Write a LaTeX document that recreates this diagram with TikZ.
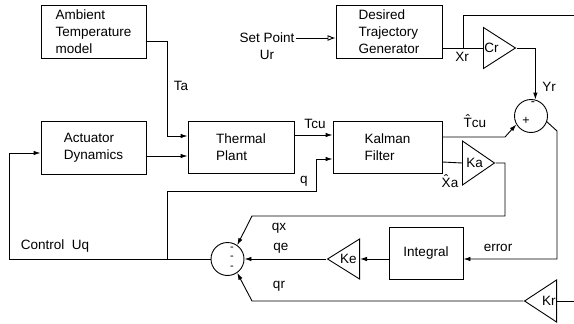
\documentclass[tikz,border=0pt]{standalone}
\usepackage{fontspec}
\setmainfont{Liberation Sans}
\usetikzlibrary{positioning, arrows.meta, shapes.geometric, calc}

\tikzset{
  block/.style={draw, align=left, inner sep=2pt},
  amp/.style={isosceles triangle, isosceles triangle stretches, draw, inner sep=0pt, minimum width=#1, minimum height=32pt},
  sumnode/.style={circle, draw, minimum size=33pt, inner sep=0pt},
  lbl/.style={inner sep=1pt},
  sign/.style={inner sep=0pt, font=\fontsize{12.5}{9.5}\selectfont},
}

\begin{document}
\begin{tikzpicture}[x=1pt, y=-1pt, >={Latex[length=7pt,width=4.5pt]}, line width=0.9pt, font=\fontsize{13.5}{17}\selectfont]
  \useasboundingbox (0,0) rectangle (574,324);
  % blocks
  \node[block, minimum width=105pt, minimum height=53pt] (amb) at (93.5,31.5) {Ambient\\Temperature\\model};
  \node[block, minimum width=105pt, minimum height=53pt] (act) at (93.5,147.5) {Actuator\\Dynamics};
  \node[block, minimum width=106pt, minimum height=52pt] (plant) at (241,147) {Thermal\\Plant};
  \node[block, minimum width=109pt, minimum height=52pt] (kal) at (387.5,147) {Kalman\\Filter};
  \node[block, minimum width=106pt, minimum height=53pt] (dtg) at (389,31.5) {Desired\\Trajectory\\Generator};
  \node[block, minimum width=74pt, minimum height=52pt] (integ) at (426,253) {Integral};
  % summing junctions
  \node[sumnode] (sumr) at (531,116) {};
  \node[sign] (sumr-a) at (533,104) {-};
  \node[sign] (sumr-b) at (526,121) {+};
  \node[sumnode] (sumq) at (227.5,259) {};
  \node[sign, align=center, font=\fontsize{11}{9.5}\selectfont] (sumq-s) at (232,258) {-\\-\\-};
  % gains
  \node[amp=41pt, anchor=lower side] (Cr) at (483,48) {};
  \node[lbl, anchor=west] (Cr-l) at (Cr.lower side) {Cr};
  \node[amp=44pt, anchor=lower side] (Ka) at (462,163) {};
  \node[lbl, anchor=west, xshift=3pt] (Ka-l) at (Ka.lower side) {Ka};
  \node[amp=40pt, shape border rotate=180, anchor=lower side] (Ke) at (360,259) {};
  \node[lbl, anchor=east, xshift=-2pt] (Ke-l) at (Ke.lower side) {Ke};
  \node[amp=42pt, shape border rotate=180, anchor=lower side] (Kr) at (557,301) {};
  \node[lbl, anchor=east] (Kr-l) at (Kr.lower side) {Kr};
  % set point
  \node[lbl, align=center] (sp) at (267,46) {Set Point\\Ur};
  \draw[-{Latex[open, length=8pt, width=6pt]}] (sp.east |- 0,38) -- (dtg.west |- 0,38);
  % reference path
  \coordinate (xr) at (463,48);
  \coordinate (topout) at (574,15);
  \draw (dtg.east |- 0,48) -- (Cr.lower side);
  \draw (xr) |- (topout);
  \node[lbl] (xr-l) at (462,57) {Xr};
  \draw[->] (Cr.apex) -| (sumr.75);
  \node[lbl] (yr-l) at (549,87) {Yr};
  % plant
  \draw[->] (amb.east |- 0,41) -| (167,136) -- (plant.west |- 0,136);
  \node[lbl] (ta-l) at (181,86) {Ta};
  \draw[->] (act.east |- 0,156) -- (plant.west |- 0,156);
  \draw[->] (plant.east |- 0,135) -- (kal.west |- 0,135);
  \node[lbl, anchor=base] (tcu-l) at (315,128) {Tcu};
  % estimator
  \draw[->] (kal.east |- 0,137) -- (505,137) -- (sumr.210);
  \node[lbl, anchor=base] (tcuhat-l) at (475,127) {\^{T}cu};
  \draw (kal.east |- 0,162) -- (Ka.lower side);
  \node[lbl, anchor=base] (xa-l) at (450,187) {\^{X}a};
  % control law
  \draw[->] (Ka.apex) -| (505,216) -- (252,216) -- (sumq.55);
  \node[lbl] (qx-l) at (279,228) {qx};
  \draw[->] (sumr.-20) -- (557,131) -- (557,259) -- (integ.east |- 0,259);
  \node[lbl] (err-l) at (498,248) {error};
  \draw[->] (integ.west |- 0,259) -- (Ke.lower side);
  \draw[->] (Ke.apex) -- (sumq.east);
  \node[lbl] (qe-l) at (281,248) {qe};
  \coordinate (krin) at (574,301);
  \draw (krin) -- (Kr.lower side);
  \draw[->] (Kr.apex) -- (252,301) -- (sumq.-55);
  \node[lbl] (qr-l) at (279,286) {qr};
  % feedback
  \coordinate (qsplit) at (167,259);
  \draw[->] (sumq.west) -| (9,153) -- (act.west |- 0,153);
  \draw[->] (qsplit) |- (316,191) |- (kal.west |- 0,159);
  \node[lbl] (uq-l) at (55,246) {Control\ \ Uq};
  \node[lbl] (q-l) at (304,181) {q};
\end{tikzpicture}
\end{document}
